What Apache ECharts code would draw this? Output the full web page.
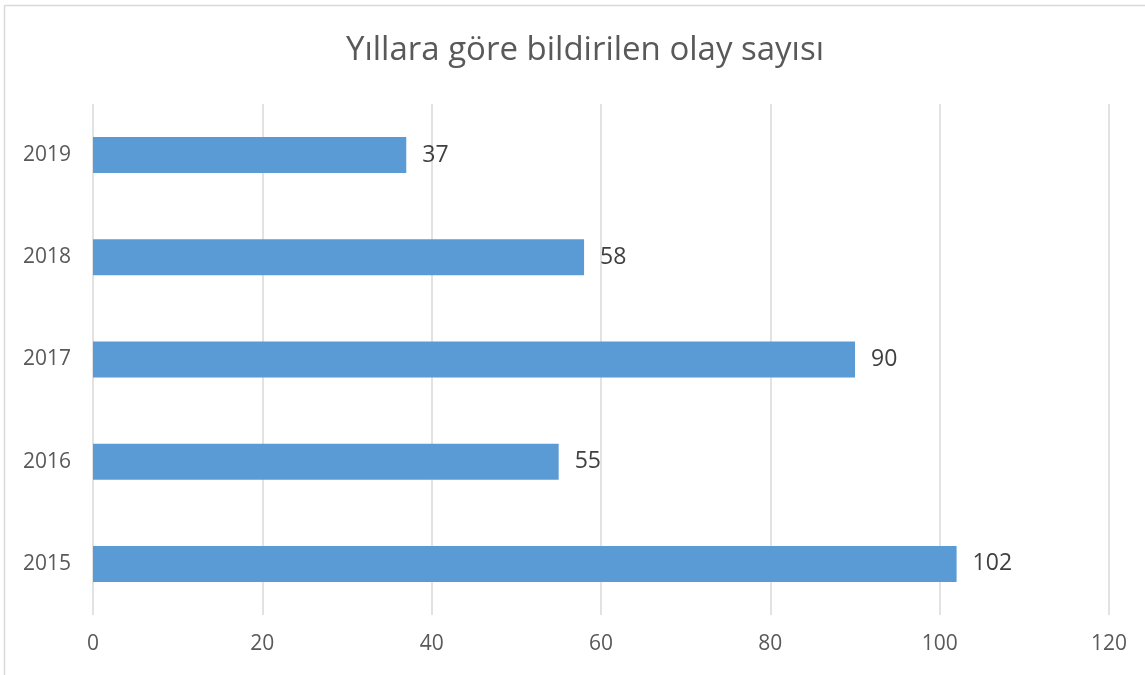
<!DOCTYPE html>
<html>
<head>
<meta charset="utf-8">
<script src="https://cdn.jsdelivr.net/npm/echarts@6/dist/echarts.min.js"></script>
<style>
  html, body { margin: 0; padding: 0; background: #fff; }
  #chart { width: 1145px; height: 675px; }
</style>
</head>
<body>
<div id="chart"></div>
<script>
// yıllar ve olay sayıları
const years = ['2015', '2016', '2017', '2018', '2019'];
const counts = [102, 55, 90, 58, 37];
const xTicks = [0, 20, 40, 60, 80, 100, 120];

const myChart = echarts.init(document.getElementById('chart'));
const font = '"Open Sans", sans-serif';

const option = {
  backgroundColor: '#fff',
  animation: false,
  title: {
    text: 'Yıllara göre bildirilen olay sayısı',
    left: 580,
    textAlign: 'center',
    top: 29,
    textStyle: { fontFamily: font, fontSize: 33, fontWeight: 'normal', color: '#595959' }
  },
  // kenarlık: sadece üst ve sol çizgi görünüyor
  graphic: [
    { type: 'line', shape: { x1: 4.5, y1: 5.5, x2: 1145, y2: 5.5 }, style: { stroke: '#d9d9d9', lineWidth: 1.5 } },
    { type: 'line', shape: { x1: 4.5, y1: 5.5, x2: 4.5, y2: 675 }, style: { stroke: '#d9d9d9', lineWidth: 1.5 } }
  ],
  grid: { left: 93, right: 36, top: 104, bottom: 60, containLabel: false },
  xAxis: {
    type: 'value',
    min: xTicks[0],
    max: xTicks[xTicks.length - 1],
    interval: 20,
    axisLine: { show: false },
    axisTick: { show: false },
    axisLabel: { fontFamily: font, fontSize: 21, color: '#595959', margin: 19 },
    splitLine: { lineStyle: { color: '#d9d9d9', width: 1.5 } }
  },
  yAxis: {
    type: 'category',
    data: years,
    axisLine: { show: false },
    axisTick: { show: false },
    axisLabel: { fontFamily: font, fontSize: 21, color: '#595959', margin: 22 }
  },
  series: [
    {
      type: 'bar',
      data: counts,
      barWidth: 36,
      itemStyle: { color: '#5b9bd5' },
      label: {
        show: true,
        position: 'right',
        distance: 16,
        fontFamily: font,
        fontSize: 23,
        color: '#404040'
      }
    }
  ]
};
myChart.setOption(option);
</script>
</body>
</html>
